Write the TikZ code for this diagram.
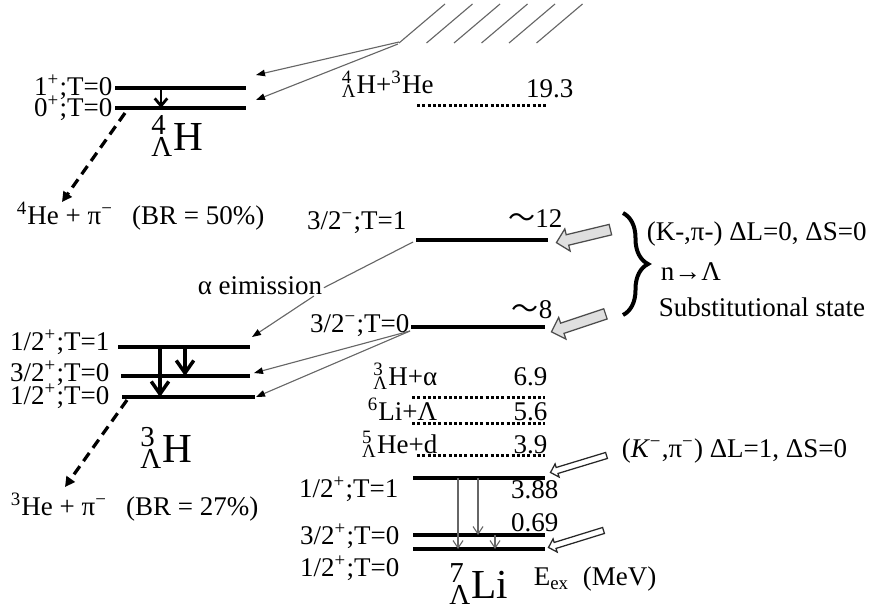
\documentclass[tikz,border=0pt]{standalone}
\usepackage{fontspec}
\setmainfont{Liberation Serif}
\newfontfamily\cjk{Noto Sans CJK JP}
\usepackage{tikz}
\usetikzlibrary{arrows.meta, positioning, calc, decorations.pathreplacing, shapes.arrows}
\newcommand{\hyp}[2]{\rlap{\textsuperscript{#1}}\textsubscript{Λ}#2}
\newcommand{\ptr}[3]{%
  \path let \p1=($(#3)-(#2)$), \n1={atan2(\y1,\x1)}, \n2={veclen(\x1,\y1)} in
    node[#1, rotate=\n1, minimum height=\n2] at ($(#2)!0.5!(#3)$) {};}

\begin{document}
\begin{tikzpicture}[
    x=0.4pt, y=-0.4pt,
    font=\fontsize{10.8}{13}\selectfont,
    every node/.style={inner sep=0.5pt},
    level/.style={line width=1.6pt},
    thresh/.style={line width=1.2pt, dash pattern=on 1.2pt off 0.9pt},
    lbl/.style={anchor=base east},
    txt/.style={anchor=base west},
    nuc/.style={anchor=base east, font=\fontsize{16.5}{18}\selectfont},
    thin/.style={draw=black!60, line width=0.45pt},
    feed/.style={thin, -{Triangle[length=3.6pt,width=2.6pt,color=black]}},
    hatch/.style={draw=black!60, line width=0.45pt},
    gamS/.style={line width=1.1pt, -{Straight Barb[length=3pt,width=5pt]}},
    gamL/.style={line width=1.4pt, -{Straight Barb[length=5pt,width=7pt]}},
    gamT/.style={draw=black!60, line width=0.45pt, -{Straight Barb[length=3pt,width=4pt]}},
    decay/.style={line width=1.3pt, dash pattern=on 4pt off 2.5pt,
                  -{Triangle[length=4pt,width=4pt]}},
    gblk/.style={single arrow, draw=black!70, fill=gray!25, line width=0.5pt,
                 inner xsep=0pt, inner ysep=1.9pt, single arrow head extend=2.4pt},
    wblk/.style={single arrow, draw=black!85, fill=white, line width=0.5pt,
                 inner xsep=0pt, inner ysep=1pt, single arrow head extend=1.5pt},
    brc/.style={decorate, decoration={brace, amplitude=10pt}, line width=1.6pt}
]
\useasboundingbox (0,0) rectangle (877,614);
% ============== 4LH (upper left) ==================
\coordinate (h4x-l) at (115,88);  \coordinate (h4x-r) at (246,88);
\coordinate (h4g-l) at (115,108); \coordinate (h4g-r) at (246,108);
\draw[level] (h4x-l) -- (h4x-r);
\draw[level] (h4g-l) -- (h4g-r);
\node[lbl] (l4x) at (114,95)  {1\textsuperscript{+};T=0};
\node[lbl] (l4g) at (114,116) {0\textsuperscript{+};T=0};
\coordinate (g4) at (161,0);
\draw[gamS] (g4 |- h4x-l) -- (g4 |- h4g-l);
\node[nuc] (n4) at (205,150) {\hyp{4}{H}};
% weak decay
\coordinate (d4) at (125,113); \coordinate (d4e) at (62,202);
\draw[decay] (d4) -- (d4e);
\node[txt] (p4) at (15,224) {\textsuperscript{4}He + π\textsuperscript{−}\hspace{0.7em}(BR = 50\%)};
% continuum above the 4LH+3He threshold
\coordinate (cont) at (399,42);
\foreach \i in {0,...,5}
  \draw[hatch] ($(cont)+(27.5*\i,1)$) -- ++(46,-39);
\coordinate (t4x) at (256,75); \coordinate (t4g) at (256,100);
\draw[feed] (cont) -- (t4x);
\draw[feed] ($(cont)+(-1,2)$) -- (t4g);
\node[txt] (th4) at (340,93) {\hyp{4}{H}+\textsuperscript{3}He};
\coordinate (th4-l) at (417,105); \coordinate (th4-r) at (547,105);
\draw[thresh] (th4-l) -- (th4-r);
\node[lbl] (e19) at (575,97) {19.3};
% ============== 7LLi: substitutional states ==================
\coordinate (m1-l) at (416,240); \coordinate (m1-r) at (548,240);
\coordinate (m0-l) at (411,327); \coordinate (m0-r) at (545,327);
\draw[level] (m1-l) -- (m1-r);
\draw[level] (m0-l) -- (m0-r);
\node[lbl] (lm1) at (408,229) {3/2\textsuperscript{−};T=1};
\node[lbl] (lm0) at (411,332) {3/2\textsuperscript{−};T=0};
\node[lbl] (e12) at (564,227) {{\cjk ～}12};
\node[lbl] (e8)  at (554,318) {{\cjk ～}8};
% alpha emission
\node[txt] (alpha) at (196,294) {α eimission};
\draw[thin] ([yshift=-1pt]alpha.east) -- ($(m1-l)+(-3,2)$);
\coordinate (t3a) at (252,337);
\draw[feed] ([xshift=-4pt]alpha.south east) -- (t3a);
% ============== 3LH (lower left) ==================
\coordinate (h3a-l) at (118,347); \coordinate (h3a-r) at (250,347);
\coordinate (h3b-l) at (121,376); \coordinate (h3b-r) at (250,376);
\coordinate (h3g-l) at (122,397); \coordinate (h3g-r) at (255,397);
\draw[level] (h3a-l) -- (h3a-r);
\draw[level] (h3b-l) -- (h3b-r);
\draw[level] (h3g-l) -- (h3g-r);
\node[lbl] (l3a) at (111,350) {1/2\textsuperscript{+};T=1};
\node[lbl] (l3b) at (111,381) {3/2\textsuperscript{+};T=0};
\node[lbl] (l3g) at (111,404) {1/2\textsuperscript{+};T=0};
\coordinate (g3a) at (160,0); \coordinate (g3b) at (185,0);
\draw[gamL] (g3a |- h3a-l) -- (g3a |- h3g-l);
\draw[gamL] (g3b |- h3a-l) -- (g3b |- h3b-l);
\coordinate (m0-f) at (410,331);
\coordinate (t3b) at (254,373); \coordinate (t3g) at (256,397);
\draw[feed] (m0-f) -- (t3b);
\draw[feed] (m0-f) -- (t3g);
\node[nuc] (n3) at (194,462) {\hyp{3}{H}};
\coordinate (d3) at (127,400); \coordinate (d3e) at (65,487);
\draw[decay] (d3) -- (d3e);
\node[txt] (p3) at (9,515) {\textsuperscript{3}He + π\textsuperscript{−}\hspace{0.7em}(BR = 27\%)};
% ============== 7LLi: thresholds and bound states ==================
\node[lbl] (th3) at (439,385) {\hyp{3}{H}+α};
\node[lbl] (e69) at (549,385) {6.9};
\draw[thresh] (412,397) -- (545,397);
\node[lbl] (th6) at (439,420) {\textsuperscript{6}Li+Λ};
\node[lbl] (e56) at (549,420) {5.6};
\draw[thresh] (412,423) -- (545,423);
\node[lbl] (th5) at (439,453) {\hyp{5}{He}+d};
\node[lbl] (e39) at (549,453) {3.9};
\draw[thresh] (417,455) -- (545,455);
\coordinate (s1-l)  at (413,478); \coordinate (s1-r)  at (545,478);
\coordinate (s32-l) at (413,535); \coordinate (s32-r) at (545,535);
\coordinate (s0-l)  at (413,549); \coordinate (s0-r)  at (545,549);
\draw[level] (s1-l) -- (s1-r);
\draw[level] (s32-l) -- (s32-r);
\draw[level] (s0-l) -- (s0-r);
\node[lbl] (ls1)  at (400,497) {1/2\textsuperscript{+};T=1};
\node[lbl] (ls32) at (401,544) {3/2\textsuperscript{+};T=0};
\node[lbl] (ls0)  at (401,576) {1/2\textsuperscript{+};T=0};
\node[lbl] (e388) at (560,498) {3.88};
\node[lbl] (e069) at (560,531) {0.69};
\coordinate (gl1) at (458,0); \coordinate (gl2) at (478,0); \coordinate (gl3) at (495,0);
\draw[gamT] (gl1 |- s1-l) -- (gl1 |- s0-l);
\draw[gamT] (gl2 |- s1-l) -- (gl2 |- s32-l);
\draw[gamT] (gl3 |- s32-l) -- (gl3 |- s0-l);
\node[nuc] (n7) at (510,598) {\hyp{7}{Li}};
\node[txt] (eex) at (532,585) {E\textsubscript{ex}\hspace{0.5em}(MeV)};
% ============== production (right) ==================
\coordinate (ka1) at (613,229); \coordinate (kb1) at (559,242);
\coordinate (ka2) at (608,313); \coordinate (kb2) at (554,331);
\ptr{gblk}{ka1}{kb1}
\ptr{gblk}{ka2}{kb2}
\draw[brc] (623,213) -- (623,315);
\node[txt] (k0) at (645,240) {(K-,π-) ΔL=0, ΔS=0};
\node[txt] (nl) at (659,280) {n→Λ};
\node[txt] (sub) at (657,316) {Substitutional state};
\coordinate (kc1) at (608,455); \coordinate (kd1) at (552,472);
\coordinate (kc2) at (605,530); \coordinate (kd2) at (550,547);
\ptr{wblk}{kc1}{kd1}
\ptr{wblk}{kc2}{kd2}
\node[txt] (k1) at (620,457) {(\textit{K}\textsuperscript{−},π\textsuperscript{−}) ΔL=1, ΔS=0};
\end{tikzpicture}
\end{document}
